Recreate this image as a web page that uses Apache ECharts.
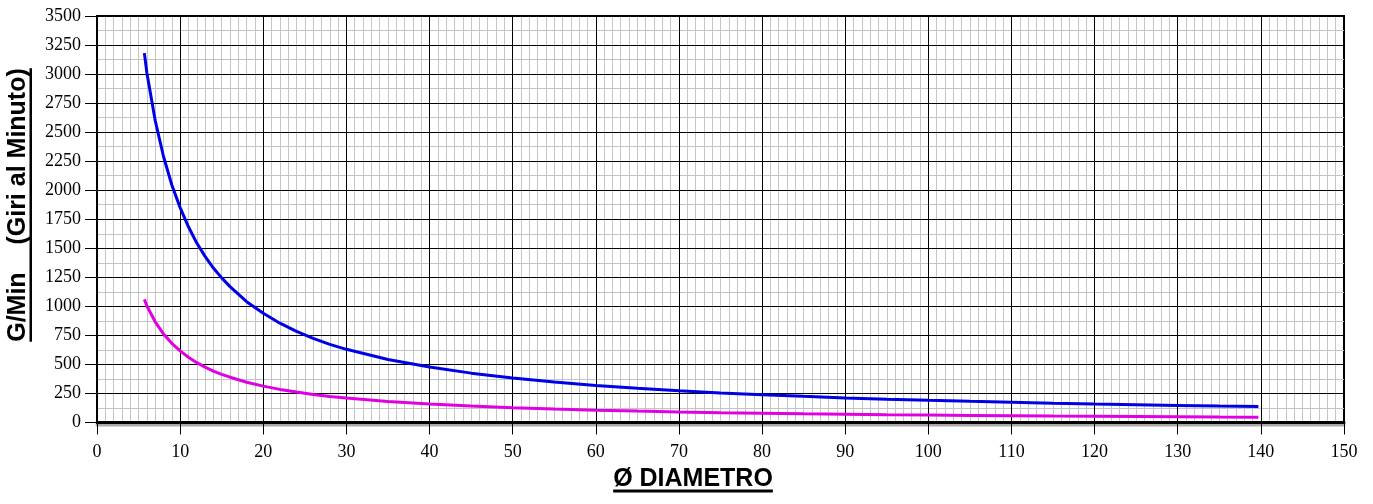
<!DOCTYPE html>
<html>
<head>
<meta charset="utf-8">
<script src="https://cdn.jsdelivr.net/npm/echarts@6/dist/echarts.min.js"></script>
<style>
  html, body { margin: 0; padding: 0; background: #fff; }
  #chart { width: 1373px; height: 504px; }
</style>
</head>
<body>
<div id="chart"></div>
<script>
// Diameters (x)
const diametri = [5.7, 6, 7, 8, 9, 10, 11, 12, 13, 14, 15, 16, 18, 20, 22, 24, 26, 28, 30,
  35, 40, 45, 50, 55, 60, 65, 70, 75, 80, 85, 90, 95, 100, 105, 110, 115, 120, 125, 130, 135, 139.7];
// Blue curve (G/Min)
const giriBlu = [3180, 3010, 2600, 2290, 2045, 1850, 1685, 1545, 1430, 1330, 1245, 1170, 1040, 940, 855, 785, 725, 673, 630,
  542, 477, 425, 383, 348, 319, 294, 273, 255, 239, 225, 212, 201, 191, 182, 174, 166, 159, 153, 147, 141, 137];
// Magenta curve (G/Min)
const giriMagenta = [1060, 1003, 867, 763, 682, 617, 562, 515, 477, 443, 415, 390, 347, 313, 285, 262, 242, 224, 210,
  181, 159, 142, 128, 116, 106, 98, 91, 85, 80, 75, 71, 67, 64, 61, 58, 55, 53, 51, 49, 47, 46];

const xTitle = 'Ø DIAMETRO';
const yTitle = 'G/Min    (Giri al Minuto)';

const titleFont = 'bold 25px "Liberation Sans", Arial, sans-serif';
function textWidth(t, font) {
  const c = document.createElement('canvas').getContext('2d');
  c.font = font;
  return c.measureText(t).width;
}
const wx = textWidth(xTitle, titleFont);
const wy = textWidth(yTitle, titleFont);

const xCx = 693, xCy = 479;
const yCx = 18.5, yCy = 205;

const chart = echarts.init(document.getElementById('chart'), null, { renderer: 'canvas' });
const labelFont = { fontFamily: '"Liberation Serif", "Times New Roman", serif', fontSize: 18, color: '#000' };
const plain = v => String(v);
const minorStyle = { show: true, lineStyle: { color: '#c4c4c4', width: 1, type: 'solid' } };
const majorStyle = { show: true, lineStyle: { color: '#000', width: 1, type: 'solid' } };

const xBase = { type: 'value', min: 0, max: 150, interval: 10, position: 'bottom' };
const yBase = { type: 'value', min: 0, max: 3500, interval: 250, position: 'left' };

chart.setOption({
  animation: false,
  backgroundColor: '#fff',
  grid: { left: 97, right: 29, top: 16, bottom: 81.5, show: true, borderColor: '#000', borderWidth: 2, backgroundColor: '#fff' },
  xAxis: [
    Object.assign({}, xBase, {
      z: 0,
      axisLine: { show: false }, axisTick: { show: false }, axisLabel: { show: false },
      splitLine: { show: false },
      minorTick: { show: false, splitNumber: 10 },
      minorSplitLine: minorStyle
    }),
    Object.assign({}, xBase, {
      z: 1,
      axisLine: { show: true, onZero: false, lineStyle: { color: '#000', width: 3, shadowColor: '#aaa', shadowOffsetY: 2.5 } },
      axisTick: { show: true, length: 12, lineStyle: { color: '#000', width: 1 } },
      axisLabel: Object.assign({ margin: 21, formatter: plain }, labelFont),
      splitLine: majorStyle,
      minorSplitLine: { show: false }
    })
  ],
  yAxis: [
    Object.assign({}, yBase, {
      z: 0,
      axisLine: { show: false }, axisTick: { show: false }, axisLabel: { show: false },
      splitLine: { show: false },
      minorTick: { show: false, splitNumber: 2 },
      minorSplitLine: minorStyle
    }),
    Object.assign({}, yBase, {
      z: 1,
      axisLine: { show: true, onZero: false, lineStyle: { color: '#000', width: 2 } },
      axisTick: { show: true, length: 12, lineStyle: { color: '#000', width: 1 } },
      axisLabel: Object.assign({ margin: 16, formatter: plain }, labelFont),
      splitLine: majorStyle,
      minorSplitLine: { show: false }
    })
  ],
  series: [
    {
      type: 'line', name: 'blu', showSymbol: false, z: 3, xAxisIndex: 1, yAxisIndex: 1,
      lineStyle: { color: '#0000e6', width: 3 },
      data: diametri.map((d, i) => [d, giriBlu[i]])
    },
    {
      type: 'line', name: 'magenta', showSymbol: false, z: 3, xAxisIndex: 1, yAxisIndex: 1,
      lineStyle: { color: '#e100e1', width: 3 },
      data: diametri.map((d, i) => [d, giriMagenta[i]])
    }
  ],
  graphic: [
    { type: 'text', x: xCx, y: xCy, style: { text: xTitle, font: titleFont, fill: '#000', align: 'center', verticalAlign: 'middle' } },
    { type: 'rect', shape: { x: xCx - wx / 2, y: 489.5, width: wx, height: 3 }, style: { fill: '#000' } },
    { type: 'text', x: yCx, y: yCy, rotation: Math.PI / 2, style: { text: yTitle, font: titleFont, fill: '#000', align: 'center', verticalAlign: 'middle' } },
    { type: 'rect', shape: { x: 29.5, y: yCy - wy / 2, width: 2.5, height: wy }, style: { fill: '#000' } }
  ]
});
</script>
</body>
</html>
